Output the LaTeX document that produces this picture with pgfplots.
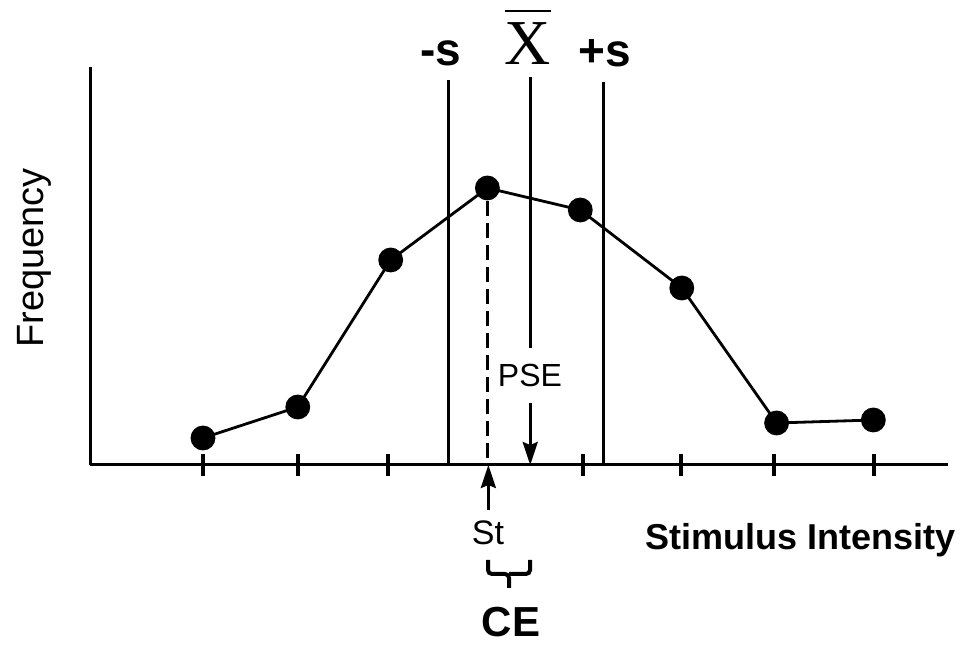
\documentclass[border=0pt]{standalone}
\usepackage{fontspec}
\setmainfont{Liberation Sans}
\newfontfamily\serif{Liberation Serif}
\usepackage{pgfplots}
\pgfplotsset{compat=1.18}
\usetikzlibrary{arrows.meta}

% x: stimulus steps (1..8), y: frequency (arbitrary units)
\pgfplotstableread{
x     y
1.00  27
1.99  58
2.96  205
3.97  277
4.94  255
6.00  177
6.99  42
8.00  45
}\freqdata

\newcommand{\fs}[1]{\fontsize{#1bp}{#1bp}\selectfont}

\begin{document}
\begin{tikzpicture}[x=1bp,y=1bp]
\useasboundingbox (0,0) rectangle (961,645);
\begin{axis}[
    at={(90bp,180bp)}, anchor=south west,
    width=858bp, height=398bp, scale only axis,
    xmin=-0.18, xmax=8.78,
    ymin=0, ymax=398,
    axis x line*=bottom, axis y line*=left,
    axis line style={line width=3bp},
    xtick={1,1.99,2.93,4.97,5.99,6.96,8.01},
    xticklabels={},
    ytick=\empty,
    tick align=center,
    major tick length=22bp,
    major tick style={line width=4bp, black},
    clip=false,
]
% -s, Xbar, +s
\addplot[line width=2.8bp] coordinates {(3.56,385) (3.56,0)};
\addplot[line width=2.8bp] coordinates {(5.18,383) (5.18,0)};
\addplot[line width=2.8bp] coordinates {(4.417,388) (4.417,117)};
% PSE arrow
\addplot[line width=2.8bp, -{Stealth[length=23bp,width=15bp,inset=3bp]}]
    coordinates {(4.417,62) (4.417,0)};
% St arrow
\addplot[line width=2.8bp, -{Stealth[length=23bp,width=15bp,inset=3bp]}]
    coordinates {(3.98,-45) (3.98,0)};
% dashed from peak
\addplot[line width=2.8bp, dash pattern=on 15bp off 7bp]
    coordinates {(3.97,264) (3.97,0)};
% frequency curve
\addplot[black, line width=2.8bp, mark=*, mark size=11bp] table[x=x,y=y] {\freqdata};
\end{axis}

\node[inner sep=0, font=\bfseries\fs{46}] at (441,591.5) {-s};
\node[inner sep=0, font=\bfseries\fs{46}] at (605,591.5) {+s};
\node[inner sep=0, font=\serif\fs{64}, anchor=base] at (528,580)
    {\vbox{\hrule height 1.8bp\kern 11bp\hbox{X}}};
\node[inner sep=0, font=\fs{32}] at (530,270) {PSE};
\node[inner sep=0, font=\fs{34}, anchor=base] at (488,100) {St};
\node[inner sep=0, font=\bfseries\fs{36}, anchor=base west] at (645,95) {Stimulus Intensity};
\node[inner sep=0, font=\bfseries\fs{42}, anchor=base] at (511,8) {CE};
\node[inner sep=0, font=\fs{38}, anchor=base, rotate=90] at (43,387) {Frequency};
% brace under St
\draw[line width=4bp, rounded corners=4bp] (488,85) -- (488,71) -- (509,71) -- (509,57);
\draw[line width=4bp, rounded corners=4bp] (530,85) -- (530,71) -- (509,71);
\end{tikzpicture}
\end{document}
